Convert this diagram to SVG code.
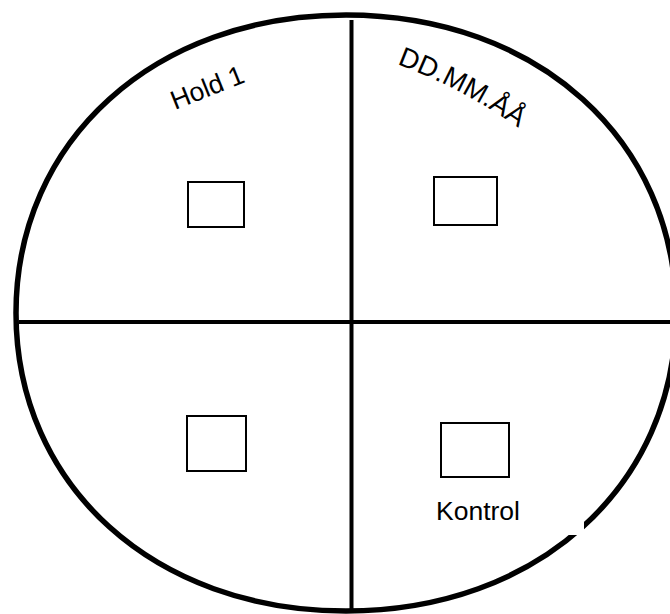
<svg xmlns="http://www.w3.org/2000/svg" width="670" height="614" viewBox="0 0 670 614">
  <style>
    .outline { fill: none; stroke: #000; stroke-width: 5.5; }
    .divider { stroke: #000; stroke-width: 4; fill: none; }
    .box { fill: #fff; stroke: #000; stroke-width: 2; }
    .label { font-family: "Liberation Sans", Arial, sans-serif; font-size: 26.5px; fill: #000; }
  </style>
  <defs>
    <path id="arcDate" d="M 397 64 A 540 540 0 0 1 560 160"/>
  </defs>
  <rect width="670" height="614" fill="#fff"/>
  <g id="plate">
    <path class="outline" d="M 676 313 C 676 485.84, 537.4 611, 346 611 C 154.6 611, 16 485.84, 16 313 C 16 140.16, 154.6 15, 346 15 C 537.4 15, 676 140.16, 676 313 Z"/>
  </g>
  <g id="dividers">
    <line class="divider" x1="351.5" y1="20" x2="351.5" y2="612"/>
    <line class="divider" x1="19" y1="322" x2="670" y2="322"/>
  </g>
  <g id="label-hold">
    <text class="label" x="175" y="110" transform="rotate(-21.7 175 110)">Hold 1</text>
  </g>
  <g id="label-date">
    <text class="label" style="font-size:27.5px"><textPath href="#arcDate">DD.MM.ÅÅ</textPath></text>
  </g>
  <g id="box-top-left">
    <rect class="box" x="188" y="182" width="56" height="45"/>
  </g>
  <g id="box-top-right">
    <rect class="box" x="434" y="177" width="63" height="48"/>
  </g>
  <g id="box-bottom-left">
    <rect class="box" x="187" y="416" width="59" height="55"/>
  </g>
  <g id="box-bottom-right">
    <rect class="box" x="441" y="423" width="68" height="54"/>
  </g>
  <g id="label-kontrol">
    <rect x="430" y="490" width="154" height="45" fill="#fff"/>
    <text class="label" x="436" y="520">Kontrol</text>
  </g>
</svg>
